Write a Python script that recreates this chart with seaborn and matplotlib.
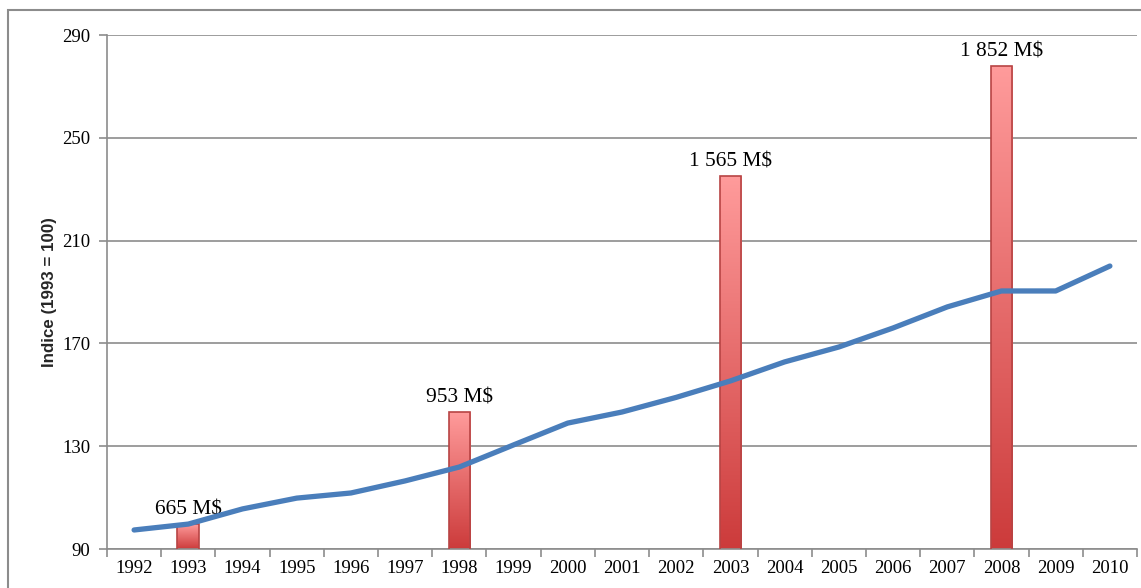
import numpy as np
import pandas as pd
import matplotlib
matplotlib.use("Agg")
import matplotlib.pyplot as plt
import seaborn as sns
from matplotlib.colors import LinearSegmentedColormap
from matplotlib.patches import Rectangle

# ---- data ----
years = [str(y) for y in range(1992, 2011)]
indice = [97.4, 99.7, 105.6, 109.8, 111.8, 116.5, 121.9, 130.5, 139.0, 143.3,
          149.0, 155.4, 162.8, 168.6, 176.0, 184.2, 190.4, 190.4, 200.1]
bar_years = ["1993", "1998", "2003", "2008"]
bar_values = [99.7, 143.3, 235.1, 277.9]
bar_labels = ["665 M$", "953 M$", "1 565 M$", "1 852 M$"]

sns.set_theme(style="white")
plt.rcParams['font.family'] = ['Liberation Serif', 'DejaVu Serif']

fig = plt.figure(figsize=(11.41, 5.88), dpi=100)
ax = fig.add_axes([107 / 1141, 39 / 588, 1030 / 1141, 514 / 588])

# outer chart border
fig.patches.append(Rectangle((8 / 1141, -0.1), 1.2, 0.1 + 578 / 588, transform=fig.transFigure,
                             fill=False, edgecolor="#8c8c8c", linewidth=1.5, zorder=0))

bars_df = pd.DataFrame({"year": bar_years, "value": bar_values})
sns.barplot(data=bars_df, x="year", y="value", order=years, width=0.4,
            color="#e06060", edgecolor="#b84444", linewidth=1.2, ax=ax, zorder=2)

# gradient fill inside the bars
cmap = LinearSegmentedColormap.from_list("redgrad", ["#cc3b3b", "#ff9b9b"])
grad = np.linspace(0, 1, 256).reshape(-1, 1)
for patch in ax.patches:
    x0, y0 = patch.get_x(), patch.get_y()
    w, h = patch.get_width(), patch.get_height()
    im = ax.imshow(grad, cmap=cmap, aspect="auto", origin="lower",
                   extent=[x0, x0 + w, 90, y0 + h], zorder=2.5)
    im.set_clip_path(patch)
    patch.set_facecolor("none")
    patch.set_zorder(3)

ax.bar_label(ax.containers[0], labels=bar_labels, padding=3, fontsize=15.4, color="black")

sns.lineplot(x=np.arange(len(years)), y=indice, color="#4a7ebb", linewidth=3.8,
             ax=ax, zorder=4)

ax.set_ylim(90, 290)
ax.set_xlim(-0.5, len(years) - 0.5)
ax.set_yticks(range(90, 291, 40))
ax.set_xticks(range(len(years)))
ax.set_xticklabels(years)
ax.set_xticks(np.arange(-0.5, len(years), 1), minor=True)
ax.grid(axis="y", color="#8c8c8c", linewidth=1.2, zorder=0)
ax.set_axisbelow(True)

for side in ["top", "right"]:
    ax.spines[side].set_visible(False)
for side in ["left", "bottom"]:
    ax.spines[side].set_color("#8c8c8c")
    ax.spines[side].set_linewidth(1.2)

ax.tick_params(axis="x", which="major", length=0, labelsize=13.5, pad=8, colors="black")
ax.tick_params(axis="x", which="minor", length=6, width=1.2, color="#8c8c8c", bottom=True)
ax.tick_params(axis="y", length=6, width=1.2, color="#8c8c8c", labelsize=13.5, pad=6,
               labelcolor="black", left=True)

ax.set_xlabel("")
ax.set_ylabel("Indice (1993 = 100)", fontsize=12.2, fontweight="bold",
              family=["Liberation Sans", "DejaVu Sans"], labelpad=4)

fig.savefig("out.png", dpi=100)
